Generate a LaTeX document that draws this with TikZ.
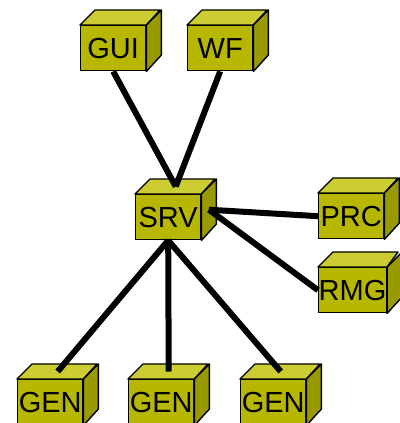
\documentclass[tikz,border=0pt]{standalone}
\usepackage{fontspec}
\setmainfont{Liberation Sans}
\usetikzlibrary{calc}
\definecolor{cubefront}{RGB}{183,183,0}
\definecolor{cubetop}{RGB}{204,204,51}
\definecolor{cubeside}{RGB}{153,153,0}
\tikzset{
  front/.style={draw=black, line width=1.4pt, fill=cubefront, rectangle,
    minimum width=65pt, minimum height=45pt, inner sep=0pt, anchor=north west,
    font=\fontsize{29}{29}\selectfont},
  face/.style={draw=black, line width=1.4pt, line join=round},
  link/.style={line width=6pt, black}
}
% a cube: front face node plus top and right faces
\newcommand{\mycube}[3]{%
  \node[front] (#1) at (#2) {#3};
  \filldraw[face, fill=cubetop] (#1.north west) -- ++(15,-15) -- ++(65,0) -- (#1.north east) -- cycle;
  \filldraw[face, fill=cubeside] (#1.north east) -- ++(15,-15) -- ++(0,45) -- (#1.south east) -- cycle;
  \coordinate (#1top) at ($(#1.north)+(7.5,-7.5)$);
  \coordinate (#1side) at ($(#1.east)+(7.5,-7.5)$);
}
\begin{document}
\begin{tikzpicture}[x=1pt,y=-1pt]
  \useasboundingbox (0,0) rectangle (399,423);
  \mycube{gui}{80,25}{GUI}
  \mycube{wf}{187,25}{WF}
  \mycube{srv}{135,194}{SRV}
  \mycube{prc}{318,193}{PRC}
  \mycube{rmg}{318,267}{RMG}
  \mycube{genA}{17,379}{GEN}
  \mycube{genB}{128,379}{GEN}
  \mycube{genC}{240,379}{GEN}
  \draw[link] (gui.south) -- (srvtop);
  \draw[link] (wf.south) -- (srvtop);
  \draw[link] (srvside) -- (prc.west);
  \draw[link] (srvside) -- (rmg.west);
  \draw[link] (srv.south) -- (genAtop);
  \draw[link] (srv.south) -- (genBtop);
  \draw[link] (srv.south) -- (genCtop);
\end{tikzpicture}
\end{document}
